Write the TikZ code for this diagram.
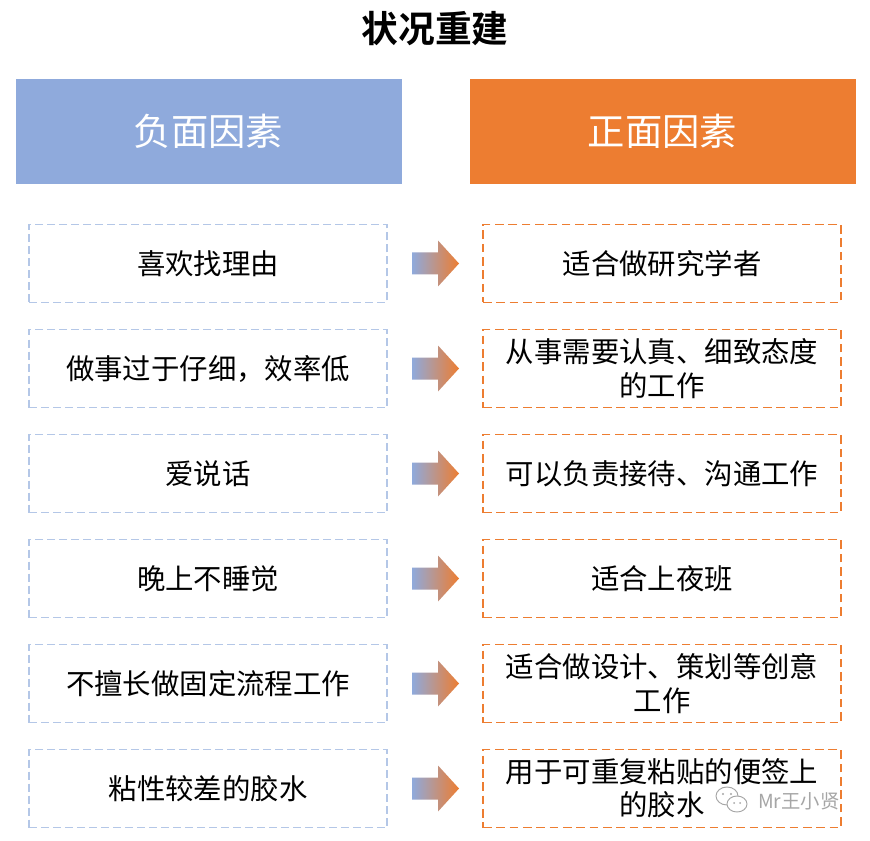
\documentclass[tikz,border=0pt]{standalone}
\usepackage{fontspec}
\setmainfont{Noto Sans CJK SC}[BoldFont={Noto Sans CJK SC Bold}]
\usetikzlibrary{calc}
\definecolor{hblue}{HTML}{8FAADC}
\definecolor{horange}{HTML}{ED7D31}
\definecolor{hpink}{HTML}{D89CA6}
\definecolor{dblue}{HTML}{B4C7E7}
\definecolor{wmgray}{HTML}{A6A6A6}
\begin{document}
\begin{tikzpicture}[x=0.75pt,y=-0.75pt,
  header/.style={minimum width=289.5pt,minimum height=78.75pt,inner sep=0pt,text=white,font=\fontsize{28}{32}\selectfont},
  negbox/.style={draw=dblue,line width=1.1pt,dash pattern=on 6pt off 3pt,minimum width=268.5pt,minimum height=58.5pt,inner sep=0pt,align=center,font=\fontsize{21.3}{25}\selectfont},
  posbox/.style={draw=horange,line width=1.4pt,dash pattern=on 6.5pt off 3.5pt,minimum width=268.5pt,minimum height=58.5pt,inner sep=0pt,align=center,font=\fontsize{21.3}{25}\selectfont},
]
\useasboundingbox (0,0) rectangle (870,841);
\fill[white] (0,0) rectangle (870,841);
\node[font=\bfseries\fontsize{27.5}{32}\selectfont] (title) at (435,29) {状况重建};
\node[header,fill=hblue] (hneg) at (208.5,131.5) {负面因素};
\node[header,fill=horange] (hpos) at (662.5,131.5) {正面因素};

\node[negbox] (n1) at (208,263.5) {喜欢找理由};
\node[negbox] (n2) at (208,368.5) {做事过于仔细，效率低};
\node[negbox] (n3) at (208,473.5) {爱说话};
\node[negbox] (n4) at (208,578.5) {晚上不睡觉};
\node[negbox] (n5) at (208,683.5) {不擅长做固定流程工作};
\node[negbox] (n6) at (208,788.5) {粘性较差的胶水};

\node[posbox] (p1) at (662,263.5) {适合做研究学者};
\node[posbox] (p2) at (662,368.5) {从事需要认真、细致态度\\的工作};
\node[posbox] (p3) at (662,473.5) {可以负责接待、沟通工作};
\node[posbox] (p4) at (662,578.5) {适合上夜班};
\node[posbox] (p5) at (662,683.5) {适合做设计、策划等创意\\工作};
\node[posbox] (p6) at (662,788.5) {用于可重复粘贴的便签上\\的胶水};

\foreach \i in {1,...,6}{
  \path (n\i.center) coordinate (c\i);
  \shade[left color=hblue,middle color=hpink,right color=horange]
    ($(c\i)+(204,-11)$) -- ($(c\i)+(230,-11)$) -- ($(c\i)+(230,-23)$) --
    ($(c\i)+(251,0)$) -- ($(c\i)+(230,23)$) -- ($(c\i)+(230,11)$) --
    ($(c\i)+(204,11)$) -- cycle;
}

% watermark
\begin{scope}[draw=wmgray,line width=0.7pt]
  \draw (727,796) ellipse [x radius=11,y radius=9];
  \draw[fill=white] (737,804) ellipse [x radius=10,y radius=8];
  \fill[wmgray] (723,794) circle (1.2) (731,794) circle (1.2) (734,803) circle (1) (740,803) circle (1);
\end{scope}
\node[text=wmgray,font=\fontsize{14.5}{17}\selectfont,anchor=west,inner sep=0pt] (wm) at (758,801) {Mr王小贤};
\end{tikzpicture}
\end{document}
